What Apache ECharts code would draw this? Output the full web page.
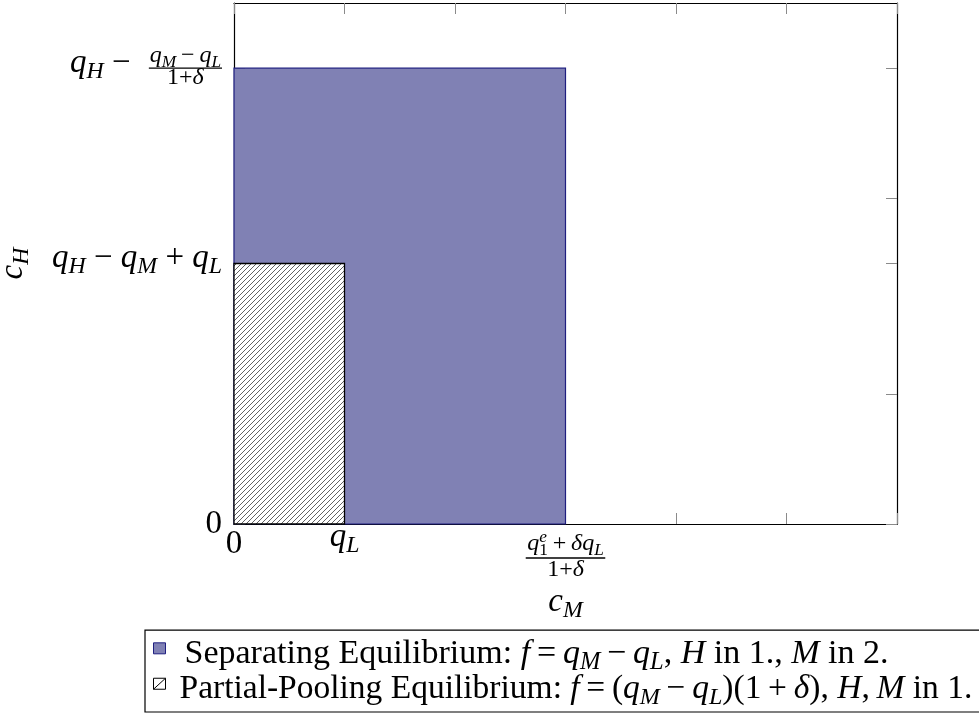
<!DOCTYPE html>
<html><head><meta charset="utf-8">
<script src="https://cdn.jsdelivr.net/npm/echarts@6/dist/echarts.min.js"></script>
<style>html,body{margin:0;padding:0;background:#fff}#c{width:979px;height:713px}</style>
</head><body><div id="c"></div>
<script>
// ---------------- data ----------------
const xRange = [0, 6];
const yRange = [0, 4];
const xTickValues = [0, 1, 2, 3, 4, 5, 6];
const yTickValues = [0, 1, 2, 2.5, 3.5];
const xLabelValues = [0, 1, 3];
const yLabelValues = [0, 2, 3.5];
const xTickLabels = ['0', 'q_L', '\\frac{q^e_1+δq_L}{1+δ}'];
const yTickLabels = ['0', 'q_H − q_M + q_L', 'q_H − \\frac{q_M−q_L}{1+δ}'];
const xAxisTitle = 'c_M';
const yAxisTitle = 'c_H';
// regions: [x0, x1, y0, y1]
const separatingRegion = [0, 3, 0, 3.5];
const poolingRegion = [0, 1, 0, 2];
const seriesNames = ['Separating Equilibrium', 'Partial-Pooling Equilibrium'];
const legendLabels = [
  'Separating Equilibrium: $f = q_M − q_L$, $H$ in 1., $M$ in 2.',
  'Partial-Pooling Equilibrium: $f = (q_M − q_L)(1 + δ)$, $H, M$ in 1.'
];

// ---------------- text helpers ----------------
const SERIF = "'Liberation Serif', 'Times New Roman', serif";
const K = 0.34;
const rich = {};
function pad(s) { return s >= 0 ? [2 * s, 0, 0, 0] : [0, 0, -2 * s, 0]; }
function addSet(p, size, lh, dy) {
  const small = Math.round(size * 0.72 * 10) / 10;
  const base = { fontFamily: SERIF, color: '#000', fontWeight: 'normal' };
  rich[p + 'rm'] = Object.assign({}, base, { fontSize: size, fontStyle: 'normal', lineHeight: lh, padding: pad(dy) });
  rich[p + 'it'] = Object.assign({}, base, { fontSize: size, fontStyle: 'italic', lineHeight: lh, padding: pad(dy) });
  const subShift = dy + 0.16 * size + K * (size - small);
  const supShift = dy - 0.36 * size + K * (size - small);
  rich[p + 'sub'] = Object.assign({}, base, { fontSize: small, fontStyle: 'italic', lineHeight: 1, padding: pad(subShift) });
  rich[p + 'subr'] = Object.assign({}, base, { fontSize: small, fontStyle: 'normal', lineHeight: 1, padding: pad(subShift) });
  rich[p + 'sup'] = Object.assign({}, base, { fontSize: small, fontStyle: 'italic', lineHeight: 1, padding: pad(supShift) });
  rich[p + 'supr'] = Object.assign({}, base, { fontSize: small, fontStyle: 'normal', lineHeight: 1, padding: pad(supShift) });
}
addSet('y0', 33, 14, 0);
addSet('y', 33, 14, -5);
addSet('yq', 33, 14, -4.5);
addSet('yfn', 24, 10, 0);
addSet('yfd', 24, 10, -2.8);
addSet('x0', 33, 24, 0);
addSet('x', 33, 24, -7);
addSet('xfn', 24, 24, 0);
addSet('xfd', 24, 20, 0);
addSet('nm', 33, 33, 0);
addSet('lga', 34, 33, 0);
addSet('lgb', 33.5, 33, 0);
function spacer(w) { return { width: w, fontSize: 1, lineHeight: 1, padding: [0, 0, 0, 0] }; }
rich.ybar = { width: 70, height: 1.3, backgroundColor: '#000', lineHeight: 14, fontSize: 1, padding: [0, 0, 0, 0] };
rich.xbar = { width: 70, height: 1.3, backgroundColor: '#000', lineHeight: 4, fontSize: 1, padding: [0, 0, 0, 0] };
rich.ydpad = spacer(10);
rich.ynpad = spacer(1);
rich.yqgap = spacer(10);
rich.lgpad1 = spacer(14);
rich.lgpad2 = spacer(9);

const mctx = document.createElement('canvas').getContext('2d');
function textW(text, st) {
  mctx.font = (st.fontStyle || 'normal') + ' normal ' + st.fontSize + 'px ' + SERIF;
  return mctx.measureText(text).width;
}
// converts a small TeX-like string to ECharts rich text
function tex(s, P, startMath, opSpace) {
  let out = '', buf = '', bs = null, math = startMath, i = 0;
  function flush() { if (bs && buf) out += '{' + P + bs + '|' + buf + '}'; buf = ''; bs = null; }
  function push(st, t) { if (st !== bs) { flush(); bs = st; } buf += t; }
  function group() {
    let g = s[i]; i++;
    if (g === '{') { const j = s.indexOf('}', i); g = s.slice(i, j); i = j + 1; }
    return g;
  }
  while (i < s.length) {
    const ch = s[i];
    if (ch === '$') { math = !math; i++; continue; }
    if (math) {
      if (ch === ' ') { i++; continue; }
      if (ch === '_' || ch === '^') {
        i++;
        const g = group();
        const dig = /^[0-9]+$/.test(g);
        let st = (ch === '_' ? 'sub' : 'sup') + (dig ? 'r' : '');
        if (s[i] === '_' || s[i] === '^') {
          const baseSt = rich[P + st];
          const w = textW(g, baseSt);
          const zName = st + 'z';
          rich[P + zName] = Object.assign({}, baseSt, { width: -w, padding: [baseSt.padding[0], 0, baseSt.padding[2], w] });
          st = zName;
        }
        flush(); push(st, g); flush();
        continue;
      }
      if (/[A-Za-zδ]/.test(ch)) push('it', ch);
      else if ('+−=-'.indexOf(ch) >= 0) {
        const c2 = ch === '-' ? '−' : ch;
        push('rm', opSpace === true ? ' ' + c2 + ' ' : opSpace === 'thin' ? '\u2009' + c2 + '\u2009' : c2);
      }
      else if (ch === ',') push('rm', opSpace === 'thin' ? ',\u2009' : ', ');
      else push('rm', ch);
    } else push('rm', ch);
    i++;
  }
  flush();
  return out;
}
function richWidth(str) {
  let w = 0;
  str.replace(/\{(\w+)\|([^}]*)\}/g, function (m, name, text) {
    const st = rich[name];
    if (typeof st.width === 'number') w += st.width; else w += textW(text, st);
    if (st.padding) w += st.padding[1] + st.padding[3];
    return m;
  });
  return w;
}
const FRAC = /^(.*)\\frac\{([^{}]*)\}\{([^{}]*)\}$/;
const yLabelStr = yTickLabels.map(function (s) {
  const fm = s.match(FRAC);
  if (!fm) return tex(s, /^[0-9]+$/.test(s) ? 'y0' : 'y', true, true);
  const pre = tex(fm[1], 'yq', true, true);
  const num = tex(fm[2], 'yfn', true, 'thin');
  const den = tex(fm[3], 'yfd', true, false);
  const W = richWidth(num) + 2, Wd = richWidth(den);
  rich.ybar.width = W;
  rich.ydpad.width = Math.max(0, (W - Wd) / 2);
  return num + '{ynpad| }\n' + pre + '{yqgap| }{ybar| }\n' + den + '{ydpad| }';
});
const xLabelStr = xTickLabels.map(function (s) {
  const fm = s.match(FRAC);
  if (!fm) return tex(s, /^[0-9]+$/.test(s) ? 'x0' : 'x', true, true);
  const num = tex(fm[2], 'xfn', true, 'thin');
  const den = tex(fm[3], 'xfd', true, false);
  rich.xbar.width = richWidth(num) + 3;
  return num + '\n{xbar| }\n' + den;
});
const legendStr = legendLabels.map(function (s, i) {
  return '{lgpad' + (i + 1) + '| }' + tex(s, i === 0 ? 'lga' : 'lgb', false, 'thin');
});

// hatch pattern
function hatch(sp) {
  const c = document.createElement('canvas'); c.width = sp; c.height = sp;
  const g = c.getContext('2d');
  g.fillStyle = '#fff'; g.fillRect(0, 0, sp, sp);
  g.strokeStyle = '#3a3a3a'; g.lineWidth = 0.8;
  g.beginPath();
  g.moveTo(-1, sp + 1); g.lineTo(sp + 1, -1);
  g.moveTo(-1, 1); g.lineTo(1, -1);
  g.moveTo(sp - 1, sp + 1); g.lineTo(sp + 1, sp - 1);
  g.stroke();
  return c;
}
const hatchPattern = { image: hatch(5), repeat: 'repeat' };

const BLUE = '#8081b4', NAVY = '#1f1f80';
const tickStyle = { color: '#8a8a8a', width: 1 };
const lineStyle = { color: '#000', width: 1.2 };

function rectItem(fillStyle) {
  return function (params, api) {
    const p0 = api.coord([api.value(0), api.value(3)]);
    const p1 = api.coord([api.value(1), api.value(2)]);
    return { type: 'rect', shape: { x: p0[0], y: p0[1], width: p1[0] - p0[0], height: p1[1] - p0[1] }, style: fillStyle };
  };
}

const chart = echarts.init(document.getElementById('c'), null, { renderer: 'canvas' });
chart.setOption({
  animation: false,
  backgroundColor: '#fff',
  grid: { left: 234, right: 82, top: 3, bottom: 189, outerBoundsMode: 'none', containLabel: false },
  xAxis: [{
    type: 'value', min: xRange[0], max: xRange[1], interval: 1, position: 'bottom',
    axisLine: { show: true, onZero: false, lineStyle: lineStyle },
    axisTick: { show: true, inside: true, length: 11, lineStyle: tickStyle, customValues: xTickValues },
    axisLabel: { show: true, margin: 8, customValues: xLabelValues, verticalAlign: 'top',
      formatter: function (v) { const i = xLabelValues.indexOf(v); return i < 0 ? '' : xLabelStr[i]; }, rich: rich },
    splitLine: { show: false },
    name: tex(xAxisTitle, 'nm', true, false), nameLocation: 'middle', nameGap: 61.5, nameMoveOverlap: false,
    nameTextStyle: { rich: rich }
  }, {
    type: 'value', min: xRange[0], max: xRange[1], interval: 1, position: 'top',
    axisLine: { show: true, onZero: false, lineStyle: lineStyle },
    axisTick: { show: true, inside: true, length: 11, lineStyle: tickStyle, customValues: xTickValues },
    axisLabel: { show: false }, splitLine: { show: false }
  }],
  yAxis: [{
    type: 'value', min: yRange[0], max: yRange[1], position: 'left',
    axisLine: { show: true, onZero: false, lineStyle: lineStyle },
    axisTick: { show: true, inside: true, length: 11, lineStyle: tickStyle, customValues: yTickValues },
    axisLabel: { show: true, margin: 12, customValues: yLabelValues,
      formatter: function (v) { const i = yLabelValues.indexOf(v); return i < 0 ? '' : yLabelStr[i]; }, rich: rich },
    splitLine: { show: false },
    name: tex(yAxisTitle, 'nm', true, false), nameLocation: 'middle', nameRotate: 90, nameGap: 204, nameMoveOverlap: false,
    nameTextStyle: { rich: rich }
  }, {
    type: 'value', min: yRange[0], max: yRange[1], position: 'right',
    axisLine: { show: true, onZero: false, lineStyle: lineStyle },
    axisTick: { show: true, inside: true, length: 11, lineStyle: tickStyle, customValues: yTickValues },
    axisLabel: { show: false }, splitLine: { show: false }
  }],
  legend: {
    orient: 'vertical', left: 145, bottom: 1,
    padding: [2.5, 80, 2.2, 8], itemGap: -6.3, itemWidth: 12, itemHeight: 22,
    borderColor: '#000', borderWidth: 1.2, backgroundColor: '#fff',
    selectedMode: false,
    data: [
      { name: seriesNames[0], icon: 'path://M0 0H12V11H0Z M0 22', itemStyle: { color: BLUE, borderColor: NAVY, borderWidth: 1 } },
      { name: seriesNames[1], icon: 'path://M0 0H12V11H0Z M0 11L12 0 M0 22', itemStyle: { color: '#fff', borderColor: '#000', borderWidth: 1 } }
    ],
    formatter: function (name) { return legendStr[seriesNames.indexOf(name)]; },
    textStyle: { rich: rich }
  },
  series: [{
    type: 'custom', name: seriesNames[0], xAxisIndex: 0, yAxisIndex: 0,
    data: [separatingRegion], encode: { x: [0, 1], y: [2, 3] },
    renderItem: rectItem({ fill: BLUE, stroke: NAVY, lineWidth: 1.2 }),
    itemStyle: { color: BLUE }, silent: true
  }, {
    type: 'custom', name: seriesNames[1], xAxisIndex: 0, yAxisIndex: 0,
    data: [poolingRegion], encode: { x: [0, 1], y: [2, 3] },
    renderItem: rectItem({ fill: hatchPattern, stroke: '#000', lineWidth: 1.3 }),
    itemStyle: { color: '#fff' }, silent: true
  }]
});
</script>
</body></html>
